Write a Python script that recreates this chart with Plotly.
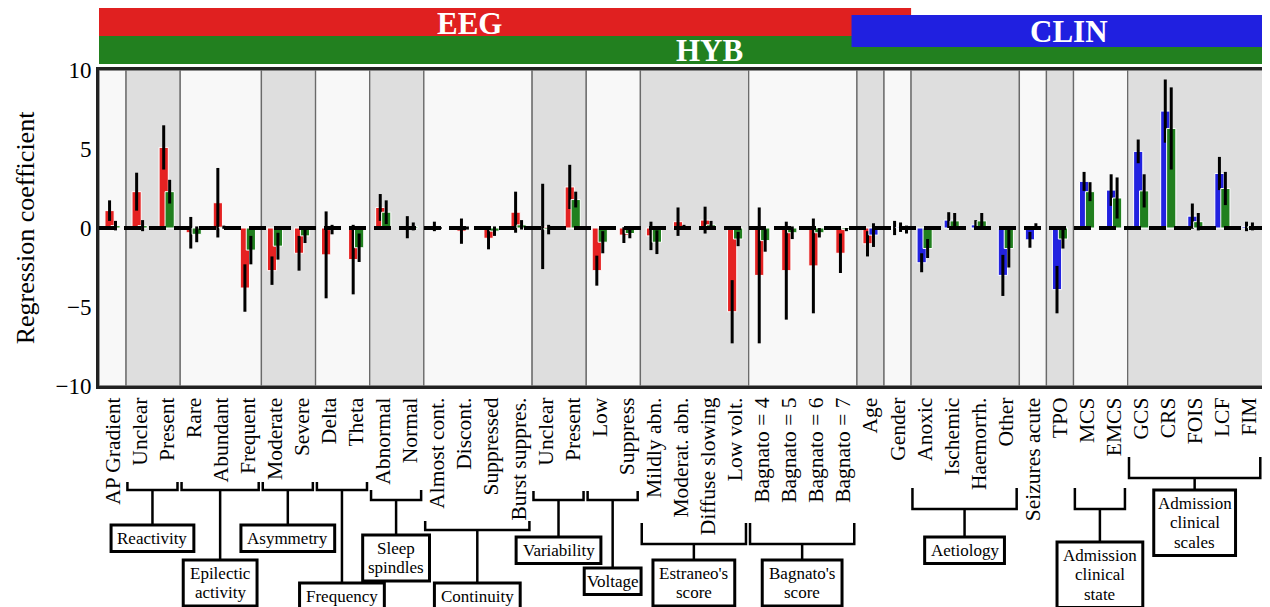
import plotly.graph_objects as go

# ---------------- data ----------------
categories = [
    "AP Gradient", "Unclear", "Present", "Rare", "Abundant", "Frequent",
    "Moderate", "Severe", "Delta", "Theta", "Abnormal", "Normal",
    "Almost cont.", "Discont.", "Suppressed", "Burst suppres.",
    "Unclear", "Present", "Low", "Suppress",
    "Mildly abn.", "Moderat. abn.", "Diffuse slowing", "Low volt.",
    "Bagnato = 4", "Bagnato = 5", "Bagnato = 6", "Bagnato = 7",
    "Age", "Gender", "Anoxic", "Ischemic", "Haemorrh.", "Other",
    "Seizures acute", "TPO", "MCS", "EMCS", "GCS", "CRS", "FOIS", "LCF", "FIM",
]

eeg_coef = [1.1, 2.3, 5.1, -0.3, 1.6, -3.8, -2.7, -1.6, -1.7, -2.0, 1.3, 0.05,
            0.1, -0.2, -0.65, 1.0, 0.1, 2.6, -2.7, -0.45, -0.5, 0.4, 0.5, -5.3,
            -3.0, -2.7, -2.4, -1.6, -1.0, 0.0,
            None, None, None, None, None, None, None, None, None, None, None, None, None]
eeg_err = [0.65, 1.2, 1.4, 1.0, 2.2, 1.5, 0.9, 1.1, 2.75, 2.2, 0.85, 0.7,
           0.3, 0.8, 0.7, 1.3, 2.7, 1.4, 0.95, 0.5, 0.9, 0.9, 0.85, 2.0,
           4.3, 3.1, 3.0, 1.25, 0.8, 0.45,
           None, None, None, None, None, None, None, None, None, None, None, None, None]

clin_coef = [None] * 28 + [-0.45, 0.05, -2.2, 0.5, 0.2, -3.0, -0.75, -3.9,
                           2.95, 2.4, 4.85, 7.4, 0.75, 3.45, 0.1]
clin_err = [None] * 28 + [0.75, 0.3, 0.6, 0.5, 0.3, 1.3, 0.5, 1.5,
                          0.6, 1.0, 0.75, 2.0, 0.8, 1.05, 0.3]

hyb_coef = [0.15, 0.15, 2.3, -0.4, 0.05, -1.4, -1.15, -0.5, -0.1, -1.25, 1.0, 0.1,
            0.0, 0.0, -0.2, 0.2, -0.1, 1.8, -0.9, -0.35, -0.9, 0.05, 0.2, -0.7,
            -0.8, -0.3, -0.3, -0.1, 0.0, -0.1, -1.3, 0.45, 0.45, -1.3, 0.1, -0.7,
            2.3, 1.9, 2.35, 6.3, 0.4, 2.5, 0.1]
hyb_err = [0.3, 0.35, 0.75, 0.5, 0.1, 0.9, 0.85, 0.45, 0.3, 0.9, 0.75, 0.25,
           0.05, 0.1, 0.3, 0.3, 0.3, 0.5, 0.7, 0.3, 0.75, 0.15, 0.25, 0.45,
           0.7, 0.4, 0.3, 0.1, 0.1, 0.25, 0.6, 0.5, 0.5, 1.2, 0.2, 0.6,
           0.6, 1.3, 1.05, 2.6, 0.55, 1.05, 0.25]

# background bands (first index, last index) of each variable block
blocks = [(0, 0), (1, 2), (3, 5), (6, 7), (8, 9), (10, 11), (12, 15), (16, 17),
          (18, 19), (20, 23), (24, 27), (28, 28), (29, 29), (30, 33), (34, 34),
          (35, 35), (36, 37), (38, 42)]

# bracket groups: label lines, first, last, bracket y(px), tick height(px), box top(px), box width(px)
groups = [
    (["Reactivity"], 1, 2, 490, 8, 525, 83),
    (["Epilectic", "activity"], 3, 5, 490, 8, 560, 74),
    (["Asymmetry"], 6, 7, 490, 8, 525, 94),
    (["Frequency"], 8, 9, 490, 8, 583, 85),
    (["Sleep", "spindles"], 10, 11, 500, 10, 535, 67),
    (["Continuity"], 12, 15, 530, 9, 583, 86),
    (["Variability"], 16, 17, 500, 9, 537, 85),
    (["Voltage"], 18, 19, 500, 9, 568, 57),
    (["Estraneo's", "score"], 20, 23, 544, 21, 560, 82),
    (["Bagnato's", "score"], 24, 27, 544, 21, 560, 80),
    (["Aetiology"], 30, 33, 509, 21, 537, 80),
    (["Admission", "clinical", "state"], 36, 37, 509, 21, 542, 86),
    (["Admission", "clinical", "scales"], 38, 42, 478, 21, 490, 82),
]

RED = "#e52222"
BLUE = "#2222e0"
GREEN = "#21801f"
FONT = "Liberation Serif, Times New Roman, serif"

# layout geometry (reference viewport pixels; the page body adds an 8px offset)
W, H = 1270, 607
OFF = 8
REF_L, REF_R, REF_T, REF_B = 99, 1266, 70, 386
M_L, M_T = REF_L - OFF, REF_T - OFF
M_R = W - (REF_R - OFF)
M_B = H - (REF_B - OFF)
PX_PER_UNIT = (REF_R - REF_L) / len(categories)


def py(px):
    return (REF_B - px) / (REF_B - REF_T)


def pxp(px):
    return (px - REF_L) / (REF_R - REF_L)


n = len(categories)
fig = go.Figure()

models = [("EEG", eeg_coef, eeg_err, RED), ("CLIN", clin_coef, clin_err, BLUE),
          ("HYB", hyb_coef, hyb_err, GREEN)]
slot = [0] * n
BAR_W = 0.34
for name, coef, err, color in models:
    xs, ys, es, offs = [], [], [], []
    for i in range(n):
        if coef[i] is None:
            continue
        s = slot[i]
        slot[i] += 1
        xs.append(i)
        ys.append(coef[i])
        es.append(err[i])
        offs.append(-0.28 + 0.22 * s)
    fig.add_trace(go.Bar(
        x=xs, y=ys, name=name, offset=offs, width=BAR_W,
        marker=dict(color=color, line=dict(color="white", width=1)),
        error_y=dict(type="data", array=es, color="black", thickness=3, width=0),
        showlegend=False,
    ))

shapes = []
for k, (a, b) in enumerate(blocks):
    shapes.append(dict(type="rect", xref="x", yref="paper", x0=a - 0.5, x1=b + 0.5,
                       y0=0, y1=1, layer="below",
                       fillcolor="#f8f8f8" if k % 2 == 0 else "#dedede",
                       line=dict(color="#6a6a6a", width=1.3)))

# dashed zero line
shapes.append(dict(type="line", xref="x", yref="y", x0=-0.5, x1=n - 0.5, y0=0, y1=0,
                   layer="above", line=dict(color="black", width=4, dash="17px,8px")))

# top model bands
shapes.append(dict(type="rect", xref="x", yref="paper", x0=-0.5, x1=29.5,
                   y0=py(37), y1=py(8), fillcolor="#e02020", line=dict(width=0)))
shapes.append(dict(type="rect", xref="x", yref="paper", x0=-0.5, x1=n - 0.5,
                   y0=py(64), y1=py(36), fillcolor="#22801f", line=dict(width=0)))
shapes.append(dict(type="rect", xref="x", yref="paper", x0=27.3, x1=n - 0.5,
                   y0=py(47), y1=py(15), fillcolor="#2020e0", line=dict(width=0)))

annotations = []
for txt, xpx, ypx in [("EEG", 470, 24), ("HYB", 711, 51), ("CLIN", 1071, 31)]:
    annotations.append(dict(text=f"<b>{txt}</b>", xref="paper", yref="paper",
                            x=pxp(xpx), y=py(ypx), xanchor="center", yanchor="middle",
                            showarrow=False, font=dict(family=FONT, size=31, color="white")))

LINE_H = 19.5
for lines, a, b, by, th, boxy, bw in groups:
    x0 = a - 0.45
    x1 = min(b + 0.4, n - 0.5)
    xc = (x0 + x1) / 2
    shapes.append(dict(type="path", xref="x", yref="paper",
                       path=f"M {x0},{py(by - th)} L {x0},{py(by)} L {x1},{py(by)} L {x1},{py(by - th)}",
                       line=dict(color="black", width=2.5)))
    shapes.append(dict(type="line", xref="x", yref="paper", x0=xc, x1=xc,
                       y0=py(by), y1=py(boxy), line=dict(color="black", width=2.5)))
    box_h = LINE_H * len(lines) + 7
    half = bw / 2 / PX_PER_UNIT
    shapes.append(dict(type="rect", xref="x", yref="paper", x0=xc - half, x1=xc + half,
                       y0=py(boxy + box_h), y1=py(boxy), fillcolor="white",
                       line=dict(color="black", width=3)))
    for k, line in enumerate(lines):
        annotations.append(dict(text=line, xref="x", yref="paper", x=xc,
                                y=py(boxy + 3.5 + LINE_H * (k + 0.5)),
                                xanchor="center", yanchor="middle", showarrow=False,
                                font=dict(family=FONT, size=17, color="black")))

fig.update_layout(
    width=W, height=H,
    margin=dict(l=M_L, r=M_R, t=M_T, b=M_B),
    paper_bgcolor="white", plot_bgcolor="#f8f8f8",
    barmode="overlay",
    shapes=shapes, annotations=annotations,
    font=dict(family=FONT, color="black"),
)
fig.update_xaxes(
    range=[-0.5, n - 0.5], tickmode="array", tickvals=list(range(n)), ticktext=categories,
    tickangle=-90, tickfont=dict(family=FONT, size=21.5, color="black"),
    ticks="", showgrid=False, zeroline=False,
    showline=True, mirror=True, linecolor="#222222", linewidth=3,
)
fig.update_yaxes(
    range=[-10, 10], tickmode="array", tickvals=[-10, -5, 0, 5, 10],
    tickfont=dict(family=FONT, size=23, color="black"),
    title=dict(text="Regression coefficient", font=dict(family=FONT, size=26, color="black"), standoff=14),
    ticks="", showgrid=False, zeroline=False,
    showline=True, mirror=True, linecolor="#222222", linewidth=3,
)

fig.write_html("out.html")
